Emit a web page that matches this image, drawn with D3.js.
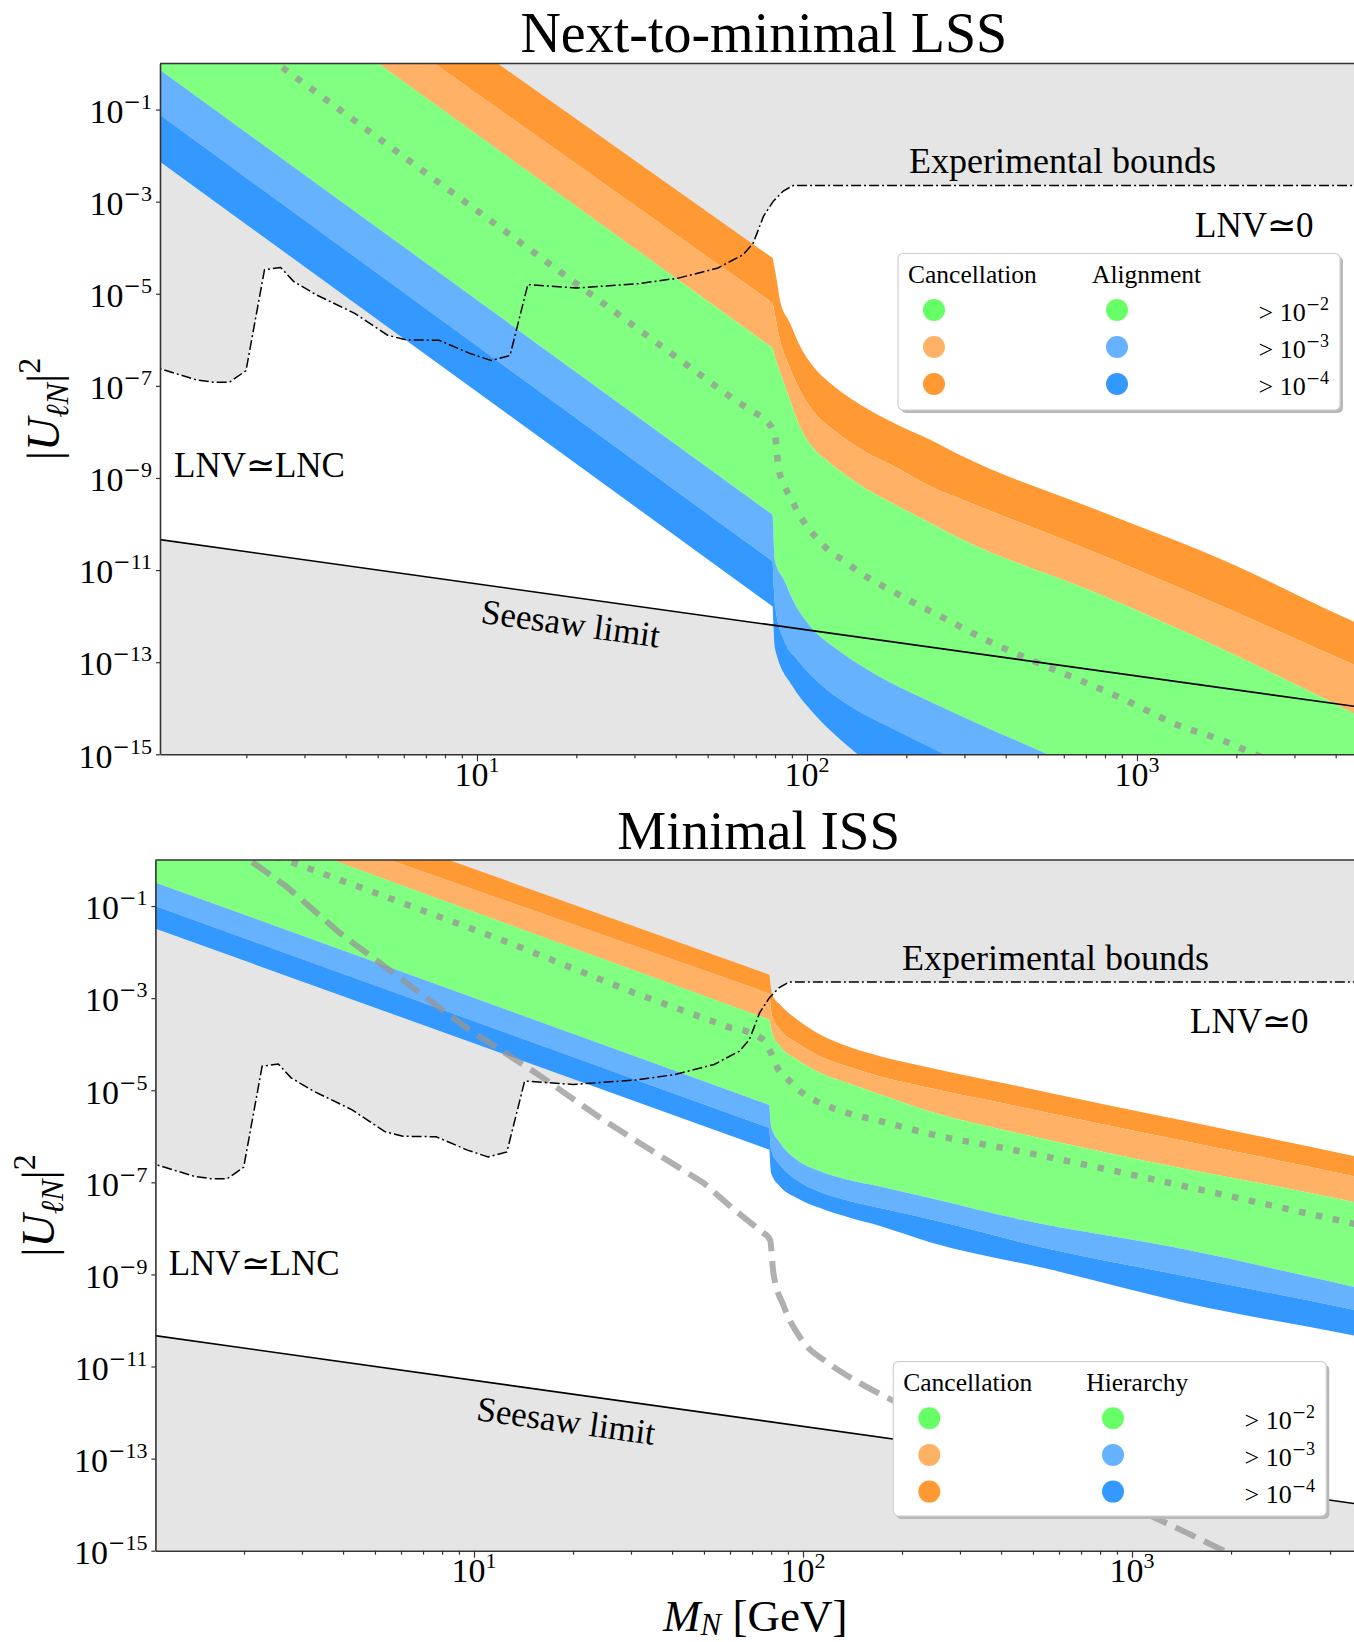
<!DOCTYPE html>
<html><head><meta charset="utf-8">
<script src="https://cdn.jsdelivr.net/npm/d3@7"></script>
<style>
body{margin:0;background:#fff}
svg{display:block}
text{font-family:"Liberation Serif","Times New Roman",serif;fill:#000;white-space:pre}
</style>
</head><body><div id="chart"></div>
<script>
// ---------------- DATA (log10 M_N [GeV], log10 |U|^2) ----------------
const massTicks = [10, 100, 1000];
const massMinor = [2,3,4,5,6,7,8,9,20,30,40,50,60,70,80,90,200,300,400,500,600,700,800,900,2000,3000,4000,5000];
const mixTickExps = [-1,-3,-5,-7,-9,-11,-13,-15];
const thresholdExps = [-2,-3,-4];

const expBound = [[0.0,-6.55],[0.04,-6.63],[0.15,-6.87],[0.20,-6.92],[0.25,-6.92],[0.30,-6.67],[0.356,-4.48],[0.405,-4.43],[0.444,-4.73],[0.512,-5.02],[0.628,-5.42],[0.729,-5.90],[0.784,-6.00],[0.885,-6.01],[0.98,-6.30],[1.043,-6.45],[1.10,-6.34],[1.154,-4.80],[1.30,-4.875],[1.49,-4.78],[1.53,-4.74],[1.61,-4.66],[1.73,-4.44],[1.767,-4.30],[1.807,-4.15],[1.837,-3.90],[1.868,-3.32],[1.898,-2.99],[1.928,-2.77],[1.958,-2.65],[3.75,-2.65]];
const seesawLimit = [[0,-10.30],[3.75,-14.05]];

// Next-to-minimal LSS band edges
const lssOrangeTop = [[0,5.39],[1.896,-4.224],[1.908,-4.69],[1.918,-5.13],[1.948,-5.63],[1.979,-6.14],[2.019,-6.58],[2.070,-6.94],[2.171,-7.45],[2.272,-7.84],[2.373,-8.17],[2.471,-8.53],[2.877,-9.69],[3.283,-10.85],[3.645,-12.08],[3.75,-12.40]];
const lssLightOrangeTop = [[0,4.42],[1.896,-5.20],[1.908,-5.65],[1.918,-6.0],[1.948,-6.6],[1.979,-7.10],[2.019,-7.55],[2.070,-7.90],[2.171,-8.41],[2.272,-8.78],[2.373,-9.18],[2.471,-9.47],[2.877,-10.63],[3.283,-11.86],[3.645,-13.02],[3.75,-13.35]];
const lssGreenTop = [[0,3.63],[1.896,-6.18],[1.908,-6.5],[1.918,-6.7],[1.948,-7.3],[1.979,-7.9],[2.019,-8.35],[2.070,-8.68],[2.171,-9.2],[2.272,-9.6],[2.373,-9.98],[2.471,-10.34],[2.877,-11.50],[3.283,-12.80],[3.645,-14.07],[3.75,-14.45]];
const lssLightBlueTop = [[0,0.064],[1.896,-9.80],[1.903,-10.8],[1.930,-11.21],[1.957,-11.65],[2.011,-12.23],[2.092,-12.73],[2.201,-13.24],[2.404,-13.96],[2.728,-15.0],[3.75,-18.3]];
const lssBlueTop = [[0,-0.913],[1.896,-10.81],[1.903,-11.75],[1.930,-12.52],[1.971,-12.95],[2.038,-13.46],[2.133,-13.96],[2.268,-14.47],[2.417,-15.0],[3.75,-19.3]];
const lssBlueBottom = [[0,-1.928],[1.896,-11.79],[1.903,-12.7],[1.957,-13.53],[2.011,-14.04],[2.079,-14.54],[2.153,-15.0],[3.75,-20]];
const lssDotted = [[0.2,1.02],[1.787,-7.34],[1.837,-7.56],[1.878,-7.77],[1.903,-8.06],[1.908,-8.39],[1.913,-8.75],[1.928,-9.11],[1.948,-9.40],[1.974,-9.76],[2.004,-10.09],[2.034,-10.34],[2.070,-10.60],[2.115,-10.81],[2.155,-11.03],[2.196,-11.21],[2.241,-11.39],[2.287,-11.57],[2.417,-12.05],[2.552,-12.55],[2.701,-13.02],[2.850,-13.46],[2.985,-13.89],[3.121,-14.36],[3.256,-14.69],[3.357,-15.0],[3.45,-15.3]];

// Minimal ISS band edges
const issOrangeTop = [[0,2.36],[1.898,-2.49],[1.906,-2.92],[1.930,-3.14],[1.981,-3.46],[2.052,-3.79],[2.133,-4.04],[2.234,-4.26],[2.386,-4.51],[2.620,-4.86],[2.892,-5.27],[3.163,-5.67],[3.435,-6.07],[3.663,-6.41],[3.75,-6.54]];
const issLightOrangeTop = [[0,1.87],[1.898,-2.90],[1.906,-3.39],[1.930,-3.68],[1.981,-3.97],[2.052,-4.26],[2.133,-4.48],[2.234,-4.70],[2.386,-4.95],[2.620,-5.30],[2.892,-5.71],[3.163,-6.11],[3.435,-6.51],[3.663,-6.85],[3.75,-6.98]];
const issGreenTop = [[0,1.49],[1.898,-3.47],[1.906,-3.75],[1.930,-4.04],[1.981,-4.33],[2.052,-4.62],[2.133,-4.84],[2.234,-5.09],[2.386,-5.46],[2.620,-5.88],[2.892,-6.31],[3.163,-6.71],[3.435,-7.08],[3.663,-7.41],[3.75,-7.54]];
const issLightBlueTop = [[0,-0.409],[1.898,-5.32],[1.903,-5.78],[1.930,-6.14],[1.981,-6.51],[2.052,-6.76],[2.133,-6.94],[2.234,-7.09],[2.386,-7.34],[2.661,-7.81],[3.163,-8.46],[3.663,-9.25],[3.75,-9.39]];
const issBlueTop = [[0,-0.918],[1.898,-5.82],[1.903,-6.29],[1.930,-6.62],[1.981,-6.95],[2.052,-7.21],[2.133,-7.39],[2.234,-7.56],[2.386,-7.80],[2.756,-8.46],[3.163,-9.04],[3.663,-9.75],[3.75,-9.88]];
const issBlueBottom = [[0,-1.41],[1.898,-6.29],[1.903,-6.80],[1.930,-7.09],[1.981,-7.34],[2.052,-7.56],[2.133,-7.75],[2.234,-7.95],[2.386,-8.30],[2.756,-8.90],[3.163,-9.62],[3.663,-10.31],[3.75,-10.43]];
const issDotted = [[0.2,0.6],[0.428,0],[0.726,-0.782],[1.106,-1.796],[1.486,-2.883],[1.778,-3.64],[1.879,-3.90],[1.900,-4.15],[1.925,-4.55],[1.955,-4.77],[1.991,-5.02],[2.042,-5.24],[2.133,-5.49],[2.234,-5.67],[2.330,-5.85],[2.386,-5.95],[2.620,-6.27],[2.892,-6.67],[3.163,-7.09],[3.435,-7.52],[3.663,-7.88],[3.75,-8.02]];
const issDashed = [[0.25,0.38],[0.317,0],[0.428,-0.565],[0.591,-1.579],[0.781,-2.594],[0.984,-3.681],[1.188,-4.623],[1.391,-5.637],[1.535,-6.289],[1.698,-7.014],[1.79,-7.59],[1.879,-8.10],[1.900,-8.25],[1.910,-8.97],[1.942,-9.696],[1.996,-10.42],[2.078,-10.93],[2.173,-11.36],[2.268,-11.72],[2.65,-13.0],[3.041,-14.19],[3.279,-15.0],[3.35,-15.25]];

const legendLSSCols = ['Cancellation','Alignment'];
const legendISSCols = ['Cancellation','Hierarchy'];

// ---------------- STYLE ----------------
const C = {green:'#80ff80', lorange:'#ffb266', orange:'#ff9933', lblue:'#66b2ff', blue:'#3399ff', bg:'#e5e5e5', lgreen:'#66ff66'};
const cancelColors = [C.lgreen, C.lorange, C.orange];
const alignColors = [C.lgreen, C.lblue, C.blue];

const W = 1354, H = 1642;
const svg = d3.select('#chart').append('svg').attr('width', W).attr('height', H);
const defs = svg.append('defs');

function makePanel(P){
  const xMin = Math.pow(10, 1 - (P.x10 - P.left) / P.dec);
  P.right = P.x10 + P.dec * (Math.log10(5000) - 1);
  P.x = d3.scaleLog().domain([xMin, 5000]).range([P.left, P.right]);
  P.y = d3.scaleLog().domain([1e-15, 1]).range([P.bottom, P.top]);
  const fx = d => P.x(Math.pow(10, d[0])), fy = d => P.y(Math.pow(10, d[1]));
  P.line = d3.line().x(fx).y(fy);
  P.mono = d3.line().x(fx).y(fy).curve(d3.curveMonotoneX);
  return P;
}

// straight segments up to the W-mass kink, smooth (monotone) curve after it
function edgePath(P, pts, kx, reverse){
  let k = pts.findIndex(d => d[0] > kx) - 1;
  if (k < 0) k = 0;
  const pre = pts.slice(0, k + 1), post = pts.slice(k);
  if (!reverse) return P.line(pre) + P.mono(post).replace(/^M/, 'L');
  return P.mono(post.slice().reverse()) + P.line(pre.slice().reverse()).replace(/^M/, 'L');
}

function powText(t, exp, supSize, rise){
  t.append('tspan').text('10');
  if (exp < 0) {
    t.append('tspan').attr('dy', -rise).style('font-family','"DejaVu Serif"').style('font-size', (supSize*0.95)+'px').text('\u2212');
    t.append('tspan').style('font-size', supSize+'px').text(Math.abs(exp));
  } else {
    t.append('tspan').attr('dy', -rise).style('font-size', supSize+'px').text(exp);
  }
}

function drawPanel(P){
  const g = svg.append('g');
  const cid = 'clip-' + P.id;
  defs.append('clipPath').attr('id', cid).append('rect')
    .attr('x', P.left).attr('y', P.top).attr('width', P.right - P.left).attr('height', P.bottom - P.top);
  const pg = g.append('g').attr('clip-path', `url(#${cid})`);

  pg.append('rect').attr('x', P.left).attr('y', P.top).attr('width', P.right - P.left).attr('height', P.bottom - P.top).attr('fill', C.bg);
  // allowed (white) region between seesaw limit and experimental bounds
  pg.append('path').attr('d', P.line(expBound.concat(seesawLimit.slice().reverse())) + 'Z').attr('fill', '#fff');

  const edges = P.edges, cols = [C.orange, C.lorange, C.green, C.lblue, C.blue];
  for (let i = 0; i < 5; i++) {
    const d = edgePath(P, edges[i], 1.899, false) + edgePath(P, edges[i+1], 1.899, true).replace(/^M/, 'L') + 'Z';
    pg.append('path').attr('d', d).attr('fill', cols[i]);
  }
  pg.append('path').attr('d', edgePath(P, P.dotted, P.dotKink, false)).attr('fill','none')
    .attr('stroke','rgba(150,150,150,0.75)').attr('stroke-width',6.5).attr('stroke-dasharray','6.5,10.7');
  if (P.dashed) pg.append('path').attr('d', edgePath(P, P.dashed, 1.899, false)).attr('fill','none')
    .attr('stroke','rgba(150,150,150,0.75)').attr('stroke-width',6).attr('stroke-dasharray','22,9.6');
  pg.append('path').attr('d', P.line(seesawLimit)).attr('fill','none').attr('stroke','#000').attr('stroke-width',1.6);
  pg.append('path').attr('d', P.line(expBound)).attr('fill','none').attr('stroke','#000').attr('stroke-width',1.5)
    .attr('stroke-dasharray','10,3,2,3');

  // annotations
  g.append('text').attr('x', P.expLab[0]).attr('y', P.expLab[1]).style('font-size','36px').text('Experimental bounds');
  g.append('text').attr('x', P.lnv0[0]).attr('y', P.lnv0[1]).style('font-size','35px').text('LNV\u22430');
  g.append('text').attr('x', P.lnvlnc[0]).attr('y', P.lnvlnc[1]).style('font-size','35px').text('LNV\u2243LNC');
  const ang = Math.atan((P.y(1e-11) - P.y(1e-10)) / (P.x(10) - P.x(1))) * 180 / Math.PI;
  g.append('text').attr('transform', `translate(${P.seeLab[0]},${P.seeLab[1]}) rotate(${ang})`).style('font-size','35px').text('Seesaw limit');

  // axes
  const axCol = '#333';
  const bx = g.append('g').attr('transform', `translate(0,${P.bottom})`)
    .call(d3.axisBottom(P.x).tickValues(massTicks).tickSize(7).tickSizeOuter(0).tickFormat(''));
  const bxm = g.append('g').attr('transform', `translate(0,${P.bottom})`)
    .call(d3.axisBottom(P.x).tickValues(massMinor).tickSize(4).tickSizeOuter(0).tickFormat(''));
  bxm.select('.domain').remove();
  const ly = g.append('g').attr('transform', `translate(${P.left},0)`)
    .call(d3.axisLeft(P.y).tickValues(mixTickExps.map(e => Math.pow(10, e))).tickSize(4).tickSizeOuter(0).tickFormat(''));
  [bx, bxm, ly].forEach(a => {
    a.selectAll('.domain').attr('stroke', axCol).attr('stroke-width', 1.6);
    a.selectAll('.tick line').attr('stroke', axCol).attr('stroke-width', 1.2);
  });
  g.append('line').attr('x1', P.left).attr('x2', P.right).attr('y1', P.top).attr('y2', P.top).attr('stroke', axCol).attr('stroke-width', 1.6);

  massTicks.forEach(m => {
    const t = g.append('text').attr('x', P.x(m)).attr('y', P.bottom + 31.5).attr('text-anchor','middle').style('font-size','34px');
    powText(t, Math.round(Math.log10(m)), 22, 14);
  });
  mixTickExps.forEach(e => {
    const t = g.append('text').attr('x', P.left - 8).attr('y', P.y(Math.pow(10, e)) + 13.3).attr('text-anchor','end').style('font-size','34px');
    powText(t, e, 22, 14);
  });

  // y label
  const yl = g.append('text').attr('transform', `translate(${P.ylab[0]},${P.ylab[1]}) rotate(-90)`).attr('text-anchor','middle').style('font-size','46px');
  yl.append('tspan').text('|');
  yl.append('tspan').style('font-style','italic').text('U');
  yl.append('tspan').attr('dy', 9).style('font-size','32px').style('font-style','italic').text('\u2113N');
  yl.append('tspan').attr('dy', -9).text('|');
  yl.append('tspan').attr('dy', -19).style('font-size','32px').text('2');

  // title
  g.append('text').attr('x', (P.left + P.right) / 2).attr('y', P.titleY).attr('text-anchor','middle')
    .style('font-size', P.titleSize + 'px').text(P.title);

  // legend
  const L = P.legend, lg = g.append('g');
  lg.append('rect').attr('x', L.x + 3).attr('y', L.y + 3).attr('width', L.w).attr('height', L.h).attr('rx', 5).attr('fill', '#b8b8b8');
  lg.append('rect').attr('x', L.x).attr('y', L.y).attr('width', L.w).attr('height', L.h).attr('rx', 5).attr('fill', '#fff').attr('stroke', '#d0d0d0').attr('stroke-width', 1.2);
  lg.append('text').attr('x', L.x + 10).attr('y', L.y + 29).style('font-size','25.5px').text(L.cols[0]);
  lg.append('text').attr('x', L.x + L.c2t).attr('y', L.y + 29).style('font-size','25.5px').text(L.cols[1]);
  thresholdExps.forEach((e, i) => {
    const cy = L.y + 56.5 + i * L.step;
    lg.append('circle').attr('cx', L.x + 36).attr('cy', cy).attr('r', 11).attr('fill', cancelColors[i]);
    lg.append('circle').attr('cx', L.x + L.c2d).attr('cy', cy).attr('r', 11).attr('fill', alignColors[i]);
    const t = lg.append('text').attr('x', L.x + L.labR).attr('y', cy + 11).attr('text-anchor','end').style('font-size','26px');
    t.append('tspan').text('> ');
    powText(t, e, 18, 11);
  });
}

const lss = makePanel({id:'lss', left:160, top:63.5, bottom:754.3, x10:477, dec:330,
  edges:[lssOrangeTop, lssLightOrangeTop, lssGreenTop, lssLightBlueTop, lssBlueTop, lssBlueBottom],
  dotted:lssDotted, dotKink:1.79, dashed:null,
  expLab:[909,173.3], lnv0:[1195,236.7], lnvlnc:[174,477.3], seeLab:[480,622.7], ylab:[59,409],
  title:'Next-to-minimal LSS', titleY:51.7, titleSize:56,
  legend:{x:898, y:253.5, w:442, h:156.5, cols:legendLSSCols, c2t:194, c2d:219, labR:431, step:37}});
const iss = makePanel({id:'iss', left:155.4, top:860, bottom:1550.7, x10:474, dec:329,
  edges:[issOrangeTop, issLightOrangeTop, issGreenTop, issLightBlueTop, issBlueTop, issBlueBottom],
  dotted:issDotted, dotKink:1.85, dashed:issDashed,
  expLab:[902,970], lnv0:[1190,1033.3], lnvlnc:[168.7,1275], seeLab:[475.4,1420], ylab:[54,1205.5],
  title:'Minimal ISS', titleY:849, titleSize:55,
  legend:{x:893.3, y:1361.7, w:433, h:154.3, cols:legendISSCols, c2t:193, c2d:219.7, labR:421.7, step:36.7}});
drawPanel(lss);
drawPanel(iss);

// x label
const xl = svg.append('text').attr('x', 663).attr('y', 1631).style('font-size','45px');
xl.append('tspan').style('font-style','italic').text('M');
xl.append('tspan').attr('dy', 4).style('font-size','31px').style('font-style','italic').text('N');
xl.append('tspan').attr('dy', -4).text(' [GeV]');
</script>
</body></html>
